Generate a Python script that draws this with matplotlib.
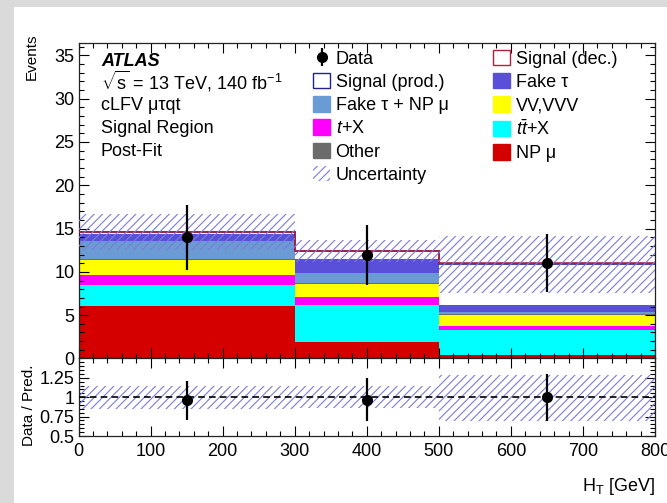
"""Post-fit H_T distribution in the cLFV signal region with data/prediction ratio."""

import numpy as np
import matplotlib
matplotlib.use("Agg")
import matplotlib.pyplot as plt
from matplotlib.patches import Patch, Rectangle
from matplotlib.ticker import MultipleLocator

plt.rcParams["font.family"] = ["Liberation Sans", "DejaVu Sans"]
plt.rcParams["mathtext.fontset"] = "custom"
plt.rcParams["mathtext.rm"] = "Liberation Sans"
plt.rcParams["mathtext.it"] = "Liberation Sans:italic"
plt.rcParams["mathtext.bf"] = "Liberation Sans:bold"
plt.rcParams["hatch.linewidth"] = 0.8

# binning (GeV)
edges = [0, 300, 500, 800]
centers = [150, 400, 650]

# post-fit yields per bin, stacked bottom -> top
np_mu = [6.10, 1.87, 0.40]
ttbar_x = [2.42, 4.33, 2.90]
t_x = [1.08, 0.87, 0.40]
vv_vvv = [1.74, 1.53, 1.30]
other = [0.10, 0.10, 0.10]
fake_tau_np_mu = [2.16, 1.20, 0.30]
fake_tau = [0.74, 1.60, 0.80]
sig_prod = [0.21, 0.85, 4.75]
sig_dec = [0.05, 0.05, 0.05]

data = [14, 12, 11]
data_err = [3.74, 3.46, 3.32]

# total uncertainty band
unc_lo = [12.5, 11.1, 7.6]
unc_hi = [16.7, 13.7, 14.1]
ratio_unc_lo = [0.85, 0.855, 0.69]
ratio_unc_hi = [1.15, 1.145, 1.29]

stack = [
    (np_mu, "#d40000", "NP μ"),
    (ttbar_x, "#00ffff", r"$t\bar{t}$+X"),
    (t_x, "#ff00ff", r"$t$+X"),
    (vv_vvv, "#ffff00", "VV,VVV"),
    (other, "#6b6b6b", "Other"),
    (fake_tau_np_mu, "#6b9bd4", "Fake τ + NP μ"),
    (fake_tau, "#5a4fd8", "Fake τ"),
]
colors = {label: c for _, c, label in stack}

hatch_col = "#7b7bdc"
prod_col = "#23238f"
dec_col = "#b0203c"

fig = plt.figure(figsize=(6.67, 5.03), dpi=100)
fig.patch.set_facecolor("#dadada")
fig.add_artist(Rectangle((14 / 667, 0), 1 - 14 / 667, 1 - 7 / 503,
                         transform=fig.transFigure, facecolor="white",
                         edgecolor="none", zorder=0))

ax = fig.add_axes([0.1177, 0.2873, 0.8643, 0.6278])
rax = fig.add_axes([0.1177, 0.1332, 0.8643, 0.1541], sharex=ax)

# stacked backgrounds
base = np.zeros(len(centers))
for vals, c, label in stack:
    top = base + np.array(vals)
    ax.stairs(top, edges, baseline=base, fill=True, color=c, lw=0, zorder=1)
    base = top
bkg_top = base

# signal contributions as open histograms on top of the stack
prod_top = bkg_top + np.array(sig_prod)
dec_top = prod_top + np.array(sig_dec)
ax.stairs(dec_top, edges, baseline=bkg_top, fill=True, facecolor="white",
          lw=0, zorder=2)
ax.stairs(prod_top, edges, baseline=None, color=prod_col, lw=1.2, zorder=3)
ax.stairs(dec_top, edges, baseline=None, color=dec_col, lw=1.2, zorder=3)

ax.stairs(unc_hi, edges, baseline=unc_lo, fill=True, facecolor="none",
          edgecolor=hatch_col, hatch="////", lw=0, zorder=4)

h_data = ax.errorbar(centers, data, yerr=data_err, fmt="o", color="black",
                     ms=7, elinewidth=1.6, capsize=0, zorder=6)

# ratio panel
total = dec_top
ratio = np.array(data) / total
ratio_err = np.array(data_err) / total
rax.stairs(ratio_unc_hi, edges, baseline=ratio_unc_lo, fill=True,
           facecolor="none", edgecolor=hatch_col, hatch="////", lw=0, zorder=2)
rax.axhline(1.0, color="black", ls=(0, (4, 2.5)), lw=1.2, zorder=3)
rax.errorbar(centers, ratio, yerr=ratio_err, fmt="o", color="black",
             ms=7, elinewidth=1.6, capsize=0, zorder=6)

# axes styling
ax.set_xlim(0, 800)
ax.set_ylim(0, 36.45)
rax.set_ylim(0.5, 1.5)

for a in (ax, rax):
    for s in a.spines.values():
        s.set_linewidth(0.9)
        s.set_color("#222222")
    a.tick_params(which="both", direction="in", top=True, right=True,
                  labelsize=13, pad=3, width=0.8)
    a.tick_params(which="major", length=7)
    a.tick_params(which="minor", length=3.5)
    a.xaxis.set_major_locator(MultipleLocator(100))
    a.xaxis.set_minor_locator(MultipleLocator(20))

ax.yaxis.set_major_locator(MultipleLocator(5))
ax.yaxis.set_minor_locator(MultipleLocator(1))
ax.tick_params(axis="x", labelbottom=False)

rax.set_yticks([0.5, 0.75, 1.0, 1.25])
rax.set_yticklabels(["0.5", "0.75", "1", "1.25"])
rax.yaxis.set_minor_locator(MultipleLocator(0.05))
rax.tick_params(axis="x", pad=5)

ax.set_ylabel("Events", fontsize=11, loc="top")
ax.yaxis.set_label_coords(-0.069, 1.03)
rax.set_ylabel("Data / Pred.", fontsize=11)
rax.yaxis.set_label_coords(-0.074, 0.39)
rax.set_xlabel(r"H$_\mathregular{T}$ [GeV]", fontsize=13, loc="right")
rax.xaxis.set_label_coords(1.0, -0.52)

# ATLAS label block
info = [
    r"$\sqrt{\mathrm{s}}$ = 13 TeV, 140 fb$^{-1}$",
    "cLFV μτqt",
    "Signal Region",
    "Post-Fit",
]
info_y = [0.876, 0.800, 0.727, 0.657]
ax.text(0.039, 0.942, "ATLAS", transform=ax.transAxes, fontsize=13,
        fontweight="bold", style="italic", va="center")
for y, line in zip(info_y, info):
    ax.text(0.039, y, line, transform=ax.transAxes, fontsize=13, va="center")

# legend, two columns
col1 = [
    (h_data, "Data"),
    (Patch(facecolor="white", edgecolor=prod_col, lw=1.0), "Signal (prod.)"),
    (Patch(color=colors["Fake τ + NP μ"]), "Fake τ + NP μ"),
    (Patch(color=colors[r"$t$+X"]), r"$t$+X"),
    (Patch(color=colors["Other"]), "Other"),
    (Patch(facecolor="none", edgecolor=hatch_col, hatch="////", lw=0), "Uncertainty"),
]
col2 = [
    (Patch(facecolor="white", edgecolor=dec_col, lw=1.0), "Signal (dec.)"),
    (Patch(color=colors["Fake τ"]), "Fake τ"),
    (Patch(color=colors["VV,VVV"]), "VV,VVV"),
    (Patch(color=colors[r"$t\bar{t}$+X"]), r"$t\bar{t}$+X"),
    (Patch(color=colors["NP μ"]), "NP μ"),
]
legend_kw = dict(frameon=False, fontsize=13, loc="upper left",
                 borderpad=0, borderaxespad=0, handlelength=0.95,
                 handleheight=0.95, handletextpad=0.3, labelspacing=0.29)
leg1 = ax.legend([h for h, _ in col1], [l for _, l in col1],
                 bbox_to_anchor=(0.4068, 0.978), **legend_kw)
ax.add_artist(leg1)
ax.legend([h for h, _ in col2], [l for _, l in col2],
          bbox_to_anchor=(0.719, 0.978), **legend_kw)

fig.savefig("out.png", dpi=100, facecolor=fig.get_facecolor())
